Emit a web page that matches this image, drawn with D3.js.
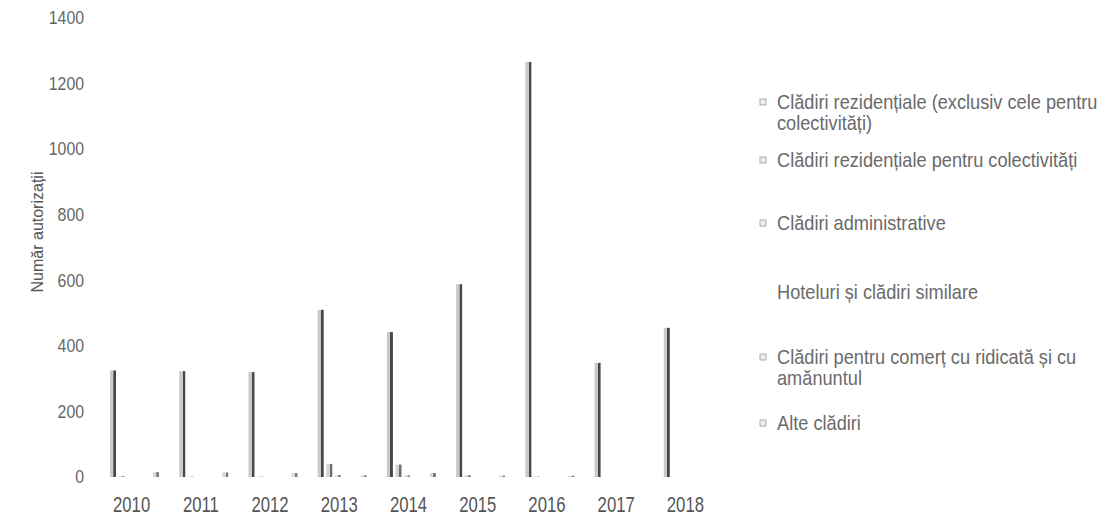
<!DOCTYPE html>
<html>
<head>
<meta charset="utf-8">
<script src="https://cdn.jsdelivr.net/npm/d3@7"></script>
<style>
  body { margin: 0; background: #fff; }
  text { font-family: "Liberation Sans", Arial, sans-serif; }
</style>
</head>
<body>
<svg id="chart" width="1104" height="515"></svg>
<script>
// categories (years)
var years = ["2010", "2011", "2012", "2013", "2014", "2015", "2016", "2017", "2018"];

// series names, as in the legend
var seriesNames = [
  "Clădiri rezidențiale (exclusiv cele pentru colectivități)",
  "Clădiri rezidențiale pentru colectivități",
  "Clădiri administrative",
  "Hoteluri și clădiri similare",
  "Clădiri pentru comerț cu ridicată și cu amănuntul",
  "Alte clădiri"
];

// values (number of permits)
var rezidentiale = [325, 323, 320, 510, 442, 588, 1266, 348, 455];
var colectivitati = [2, 1, 1, 40, 38, 5, 1, 0, 0];
var administrative = [0, 0, 0, 6, 5, 0, 0, 0, 0];
var hoteluri = [0, 0, 0, 0, 0, 0, 0, 0, 0];
var comert = [0, 0, 0, 0, 0, 0, 0, 0, 0];
var alte = [15, 14, 12, 5, 12, 4, 4, 0, 0];

var yTicks = [0, 200, 400, 600, 800, 1000, 1200, 1400];

var allSeries = [rezidentiale, colectivitati, administrative, hoteluri, comert, alte];

// legend labels are wrapped like the original
var legendLines = [
  ["Clădiri rezidențiale (exclusiv cele pentru", "colectivități)"],
  ["Clădiri rezidențiale pentru colectivități"],
  ["Clădiri administrative"],
  ["Hoteluri și clădiri similare"],
  ["Clădiri pentru comerț cu ridicată și cu", "amănuntul"],
  ["Alte clădiri"]
];

var svg = d3.select("#chart");

// gradients to mimic the scanned grey bars (light body, dark right edge)
var defs = svg.append("defs");
var fills = [
  {id: "g0", light: "#cacaca", dark: "#474747"},
  {id: "g1", light: "#d4d4d4", dark: "#6e6e6e"},
  {id: "g2", light: "#dedede", dark: "#8a8a8a"},
  {id: "g3", light: "#ffffff", dark: "#ffffff"},
  {id: "g4", light: "#bdbdbd", dark: "#6a6a6a"},
  {id: "g5", light: "#d8d8d8", dark: "#7a7a7a"}
];
fills.forEach(function (f) {
  var lg = defs.append("linearGradient").attr("id", f.id)
    .attr("x1", "0").attr("x2", "1").attr("y1", "0").attr("y2", "0");
  lg.append("stop").attr("offset", "0").attr("stop-color", f.light);
  lg.append("stop").attr("offset", "0.55").attr("stop-color", f.light);
  lg.append("stop").attr("offset", "0.6").attr("stop-color", f.dark);
  lg.append("stop").attr("offset", "1").attr("stop-color", f.dark);
});

var x0 = d3.scaleBand().domain(years).range([97, 720]);
var x1 = d3.scaleBand().domain(d3.range(seriesNames.length))
  .range([13, 62]).paddingInner(0.3);
var y = d3.scaleLinear().domain([0, 1400]).range([477, 18]);

// y axis (labels only, no line)
var yAxis = svg.append("g")
  .attr("transform", "translate(84,0)")
  .call(d3.axisLeft(y).tickValues(yTicks).tickFormat(d3.format("d")).tickSize(0).tickPadding(0));
yAxis.select(".domain").remove();
yAxis.selectAll("text")
  .attr("fill", "#666")
  .attr("transform", "scale(0.88,1)")
  .style("font-size", "18px");

// x axis (labels only)
var xAxis = svg.append("g")
  .attr("transform", "translate(0,494)")
  .call(d3.axisBottom(x0).tickSize(0).tickPadding(0));
xAxis.select(".domain").remove();
xAxis.selectAll("text")
  .attr("fill", "#555")
  .attr("dy", "0.8em")
  .attr("transform", "scale(0.76,1)")
  .style("font-size", "22px");
xAxis.selectAll(".tick text").each(function () {
  // keep the label centred after the horizontal squeeze
  var t = d3.select(this.parentNode).attr("transform");
  var tx = +t.match(/translate\(([-\d.]+)/)[1];
  d3.select(this.parentNode).attr("transform", "translate(" + tx + ",0)");
});

// y title
svg.append("text")
  .attr("transform", "translate(43,232) rotate(-90)")
  .attr("text-anchor", "middle")
  .attr("fill", "#555")
  .style("font-size", "16px")
  .text("Număr autorizații");

// bars
var groups = svg.append("g").selectAll("g")
  .data(years)
  .enter().append("g")
  .attr("transform", function (d) { return "translate(" + x0(d) + ",0)"; });

groups.selectAll("rect")
  .data(function (d, i) {
    return allSeries.map(function (s, k) { return {k: k, v: s[i]}; });
  })
  .enter().append("rect")
  .attr("x", function (d) { return x1(d.k); })
  .attr("y", function (d) { return y(d.v); })
  .attr("width", x1.bandwidth())
  .attr("height", function (d) { return y(0) - y(d.v); })
  .attr("fill", function (d) { return "url(#" + fills[d.k].id + ")"; });

// legend
var legendY = [102, 160, 223, 292, 357, 423];
var legend = svg.append("g").selectAll("g")
  .data(legendLines)
  .enter().append("g")
  .attr("transform", function (d, i) { return "translate(760," + legendY[i] + ")"; });

legend.append("rect")
  .attr("x", 0).attr("y", -3)
  .attr("width", 6).attr("height", 6)
  .attr("fill", function (d, i) { return i === 3 ? "#fff" : "#eee"; })
  .attr("stroke", function (d, i) { return i === 3 ? "#fff" : "#999"; })
  .attr("stroke-width", 0.8);

legend.append("text")
  .attr("transform", "translate(17,0) scale(0.91,1)")
  .attr("fill", "#6a6a6a")
  .style("font-size", "20px")
  .selectAll("tspan")
  .data(function (d) { return d; })
  .enter().append("tspan")
  .attr("x", 0)
  .attr("dy", function (d, j) { return j === 0 ? "0.35em" : "21px"; })
  .text(function (d) { return d; });
</script>
</body>
</html>
